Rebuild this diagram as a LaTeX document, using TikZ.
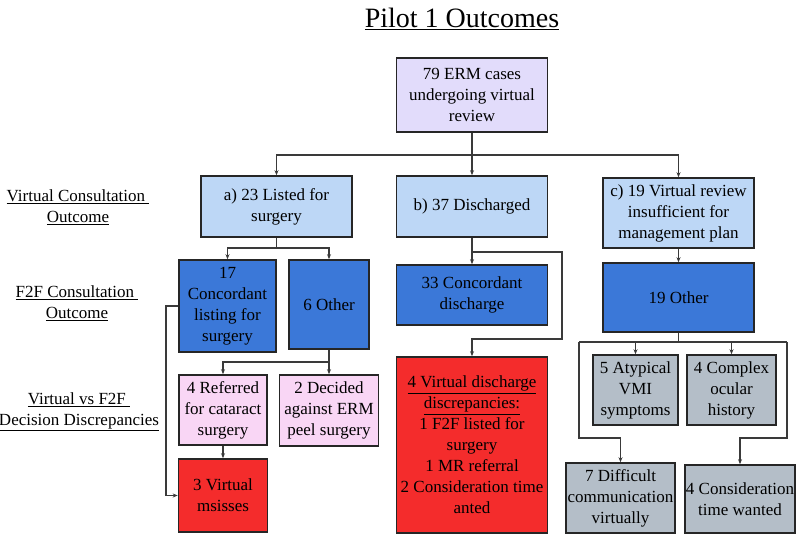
\documentclass[tikz,border=0pt]{standalone}
\usepackage{fontspec}
\newfontfamily\tnr{Liberation Serif}
\usetikzlibrary{arrows.meta}
\definecolor{lav}{HTML}{E2DCFB}
\definecolor{lblue}{HTML}{BDD7F6}
\definecolor{dblue}{HTML}{3B78D8}
\definecolor{pinkc}{HTML}{F9D6F5}
\definecolor{redc}{HTML}{F42C2C}
\definecolor{grayc}{HTML}{B4BEC8}
\definecolor{edge}{HTML}{262626}
\definecolor{linec}{HTML}{3A3A3A}
\newcommand{\bodyfont}{\tnr\fontsize{17}{21}\selectfont}
\tikzset{
  box/.style={draw=edge, line width=1.6pt, align=center, inner sep=0pt, font=\bodyfont},
  conn/.style={draw=linec, line width=1.1pt, -{Stealth[length=5pt,width=4pt]}},
  plain/.style={draw=linec, line width=1.1pt},
  lab/.style={align=center, inner sep=0pt, font=\bodyfont}
}
\begin{document}
\begin{tikzpicture}[x=1pt,y=-1pt]
\useasboundingbox (0,0) rectangle (798,535);
\fill[white] (0,0) rectangle (798,535);
% title
\node[inner sep=0pt, font=\tnr\fontsize{28}{34}\selectfont] (title) at (462,19) {\underline{Pilot 1 Outcomes}};
% side labels
\node[lab] (l1) at (78,207) {\underline{Virtual Consultation\ }\\\underline{Outcome}};
\node[lab] (l2) at (77,303) {\underline{F2F Consultation\ }\\\underline{Outcome}};
\node[lab] (l3) at (79,412) {\underline{Virtual vs F2F\ }\\\underline{Decision Discrepancies}};
% boxes
\node[box, fill=lav, minimum width=151pt, minimum height=74pt] (top) at (472,95) {79 ERM cases\\undergoing virtual\\review};
\node[box, fill=lblue, minimum width=151pt, minimum height=61pt] (a) at (276.5,206.5) {a) 23 Listed for\\surgery};
\node[box, fill=lblue, minimum width=151pt, minimum height=61pt] (b) at (472,206.5) {b) 37 Discharged};
\node[box, fill=lblue, minimum width=151pt, minimum height=70pt] (c) at (678.5,213) {c) 19 Virtual review\\insufficient for\\management plan};
\node[box, fill=dblue, minimum width=97pt, minimum height=92pt] (n17) at (227.5,306) {17\\Concordant\\listing for\\surgery};
\node[box, fill=dblue, minimum width=80pt, minimum height=89pt] (n6) at (329,304.5) {6 Other};
\node[box, fill=dblue, minimum width=151pt, minimum height=60pt] (n33) at (472,295) {33 Concordant\\discharge};
\node[box, fill=dblue, minimum width=151pt, minimum height=69pt] (n19) at (678.5,297.5) {19 Other};
\node[box, fill=pinkc, minimum width=88pt, minimum height=70pt] (ref) at (223,410) {4 Referred\\for cataract\\surgery};
\node[box, fill=pinkc, minimum width=99pt, minimum height=71pt] (dec) at (329,410.5) {2 Decided\\against ERM\\peel surgery};
\node[box, fill=redc, minimum width=89pt, minimum height=73pt] (vm) at (223,495.5) {3 Virtual\\msisses};
\node[box, fill=redc, minimum width=151pt, minimum height=176pt] (red) at (472,445) {\underline{4 Virtual discharge}\\\underline{discrepancies:}\\1 F2F listed for\\surgery\\1 MR referral\\2 Consideration time\\anted};
\node[box, fill=grayc, minimum width=85pt, minimum height=70pt] (atyp) at (635.5,390) {5 Atypical\\VMI\\symptoms};
\node[box, fill=grayc, minimum width=89pt, minimum height=70pt] (cplx) at (731.5,390) {4 Complex\\ocular\\history};
\node[box, fill=grayc, minimum width=109pt, minimum height=70pt] (diff) at (620.5,498) {7 Difficult\\communication\\virtually};
\node[box, fill=grayc, minimum width=110pt, minimum height=68pt] (cons) at (740,499) {4 Consideration\\time wanted};
% junctions
\coordinate (j1) at (472,155);
\coordinate (j2) at (276.5,248);
\coordinate (k1) at (166,306);
\coordinate (j3) at (329,362);
\coordinate (j4) at (472,252);
\coordinate (k2) at (562,252);
\coordinate (k3) at (562,339);
\coordinate (k4) at (472,339);
\coordinate (j5) at (678.5,342);
\coordinate (k5) at (579,342);
\coordinate (k6) at (787,342);
\coordinate (k7) at (579,438);
\coordinate (k8) at (787,438);
% connectors
\draw[conn] (top.south) -- (b.north);
\draw[conn] (j1) -| (a.north);
\draw[conn] (j1) -| (c.north);
\draw[plain] (a.south) -- (j2);
\draw[conn] (j2) -| (n17.north);
\draw[conn] (j2) -| (n6.north);
\draw[conn] (n17.west) -- (k1) |- (vm.west);
\draw[plain] (n6.south) -- (j3);
\draw[conn] (j3) -| (ref.north);
\draw[conn] (j3) -- (dec.north);
\draw[conn] (ref.south) -- (vm.north);
\draw[conn] (b.south) -- (n33.north);
\draw[conn] (j4) -- (k2) -- (k3) -- (k4) -- (red.north);
\draw[conn] (c.south) -- (n19.north);
\draw[plain] (n19.south) -- (j5);
\draw[plain] (k5) -- (k6);
\draw[conn] (atyp.north |- j5) -- (atyp.north);
\draw[conn] (cplx.north |- j5) -- (cplx.north);
\draw[conn] (k5) -- (k7) -| (diff.north);
\draw[conn] (k6) -- (k8) -| (cons.north);
\end{tikzpicture}
\end{document}
